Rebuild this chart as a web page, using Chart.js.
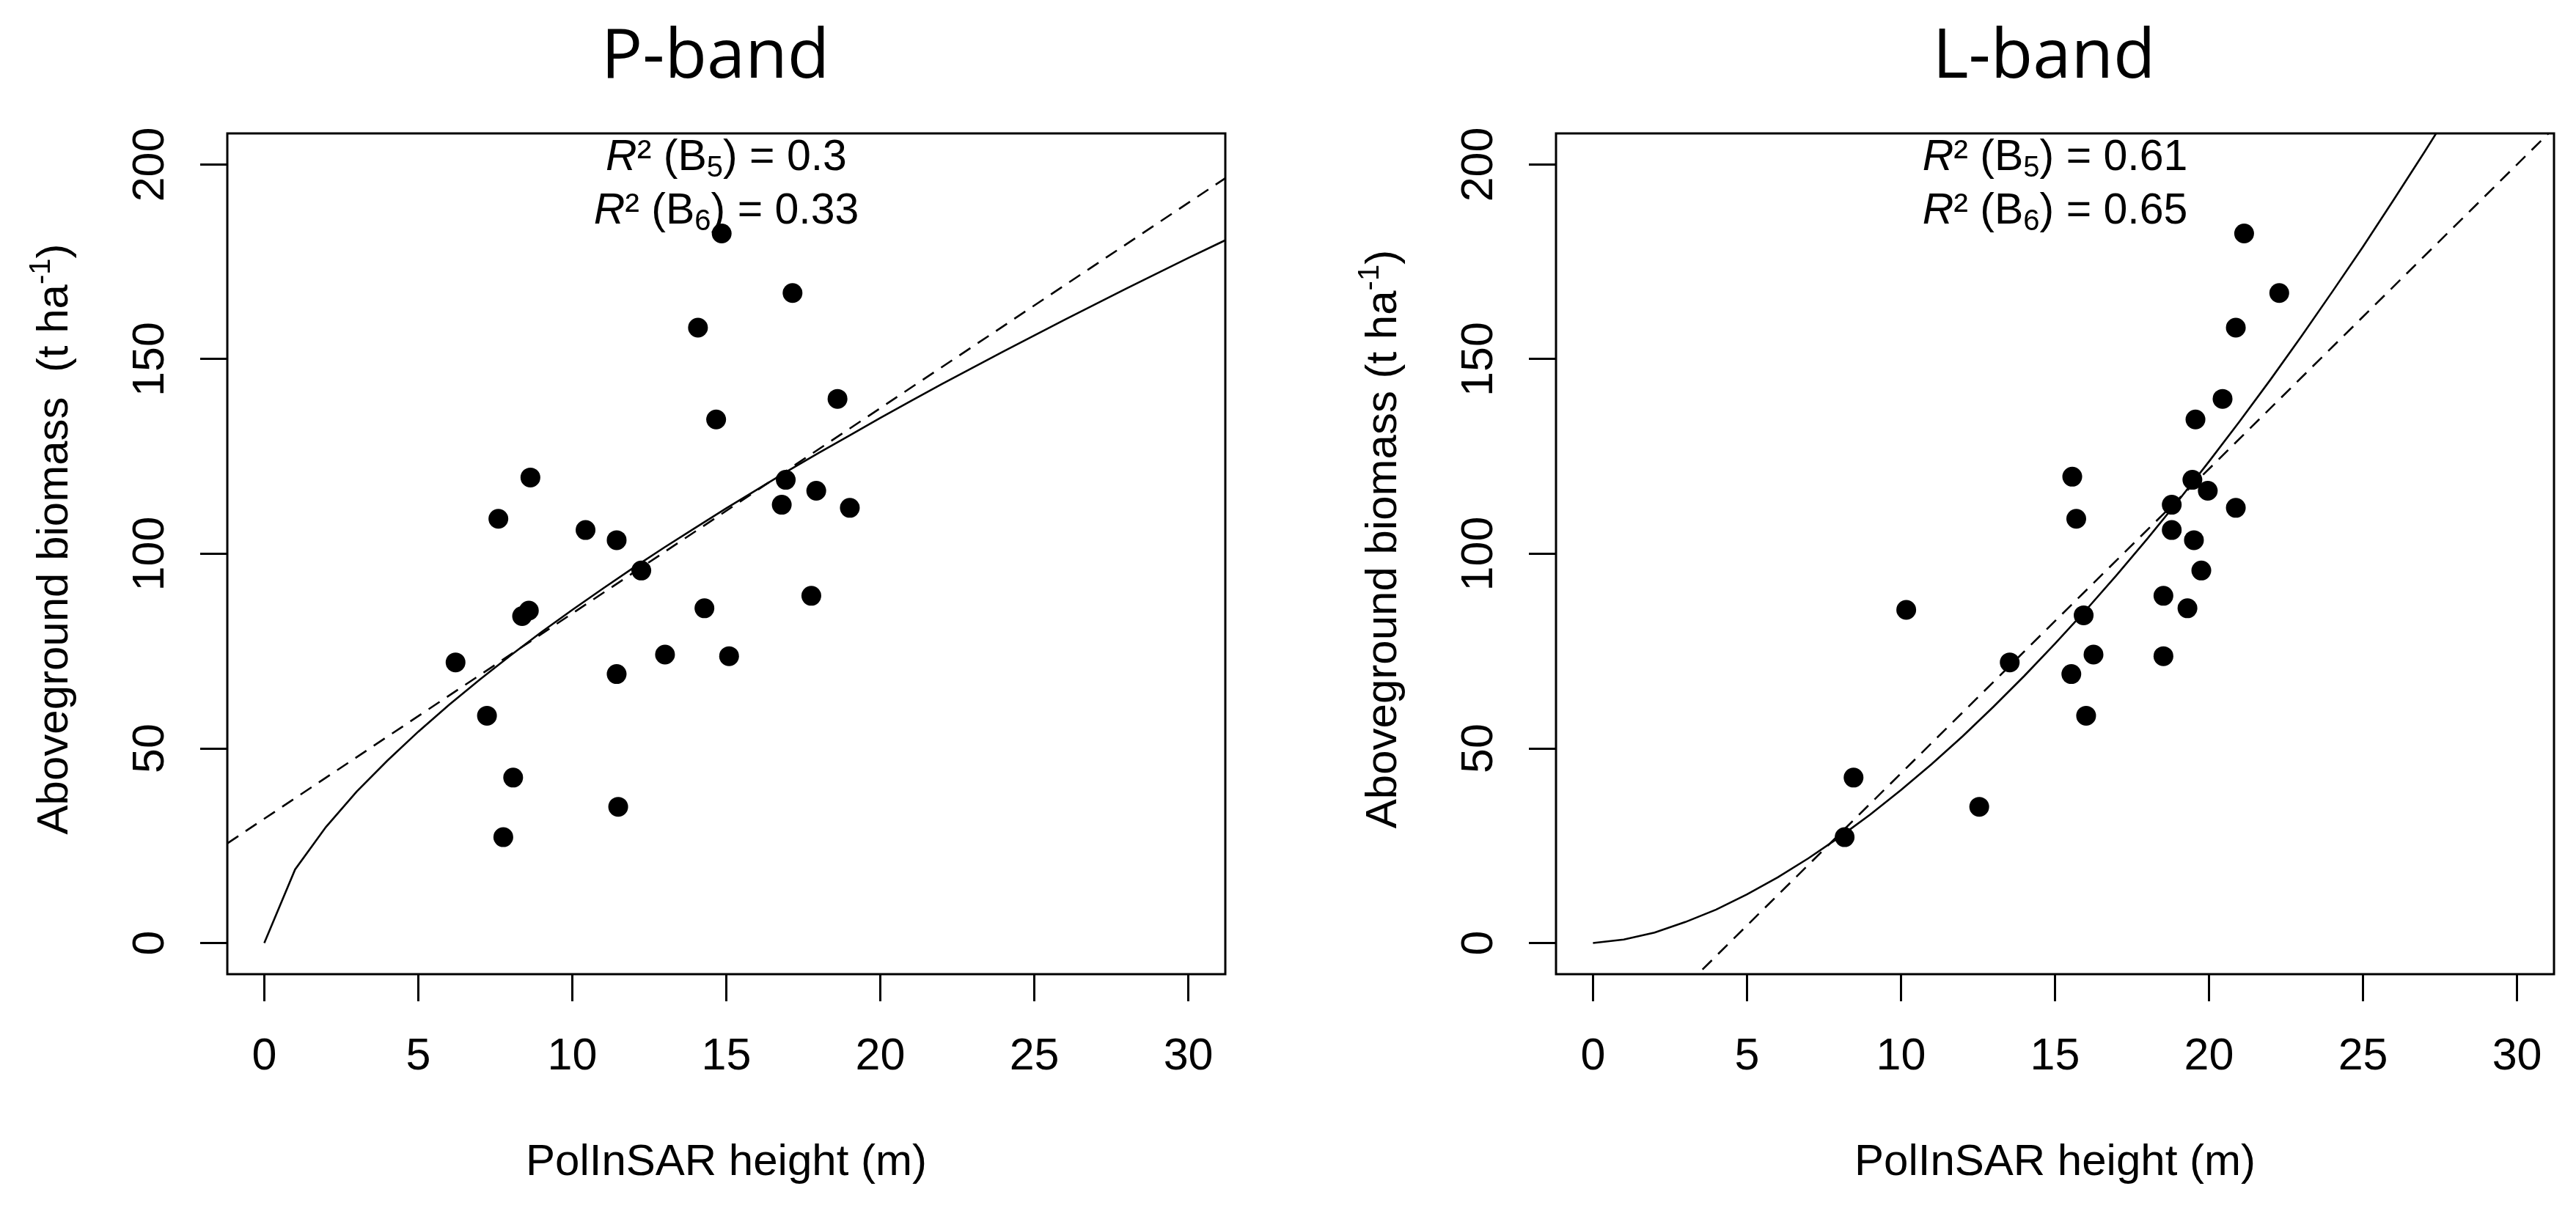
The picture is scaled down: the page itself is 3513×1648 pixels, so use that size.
<!DOCTYPE html>
<html>
<head>
<meta charset="utf-8">
<script src="https://cdn.jsdelivr.net/npm/chart.js@4.4.0/dist/chart.umd.min.js"></script>
<style>
  html, body { margin: 0; padding: 0; background: #fff; width: 3513px; height: 1648px; overflow: hidden; position: relative; }
  canvas { position: absolute; top: 0; }
  #pband { left: 0; }
  #lband { left: 1812px; }
</style>
</head>
<body>
<canvas id="pband" width="1756" height="1648"></canvas>
<canvas id="lband" width="1756" height="1648"></canvas>
<script>
// tick labels
const xTicks = [0, 5, 10, 15, 20, 25, 30];
const yTicks = [0, 50, 100, 150, 200];

// P-band plots: PolInSAR height (m) vs biomass (t/ha)
const pHeight = [6.21, 7.23, 7.6, 7.76, 8.08, 8.37, 8.59, 8.64, 10.43, 11.44, 11.44, 11.49, 12.24,
  13.01, 14.08, 14.29, 14.67, 14.85, 15.09, 16.8, 16.93, 17.15, 17.76, 17.92, 18.61, 19.01];
const pBiomass = [72.1, 58.4, 109.0, 27.2, 42.5, 84.0, 85.4, 119.6, 106.1, 103.5, 69.1, 35.0, 95.7,
  74.1, 158.1, 86.0, 134.5, 182.3, 73.7, 112.6, 119.0, 167.0, 89.2, 116.2, 139.8, 111.8];

// L-band plots
const lHeight = [8.17, 8.46, 10.17, 12.54, 13.53, 15.53, 15.56, 15.69, 15.93, 16.01, 16.25, 18.52, 18.52,
  18.79, 18.79, 19.3, 19.46, 19.51, 19.56, 19.75, 19.96, 20.44, 20.87, 20.87, 21.14, 22.28];
const lBiomass = [27.2, 42.5, 85.6, 35.0, 72.1, 69.1, 119.8, 109.0, 84.2, 58.4, 74.1, 89.2, 73.7,
  112.6, 106.1, 86.0, 119.0, 103.5, 134.5, 95.7, 116.2, 139.8, 158.1, 111.8, 182.3, 167.0];

// fitted curves
const curveX = [0, 1, 2, 3, 4, 5, 6, 7, 8, 9, 10, 11, 12, 13, 14, 15, 16,
  17, 18, 19, 20, 21, 22, 23, 24, 25, 26, 27, 28, 29, 30, 31, 32];
const pCurveY = [0, 18.9, 29.8, 38.9, 46.9, 54.3, 61.2, 67.7, 73.9, 79.9, 85.6, 91.1, 96.5, 101.7, 106.7, 111.7, 116.5,
  121.3, 125.9, 130.4, 134.9, 139.3, 143.6, 147.8, 152.0, 156.1, 160.2, 164.2, 168.2, 172.1, 176.0, 179.8, 183.6];
const lCurveY = [0, 0.9, 2.7, 5.4, 8.6, 12.5, 16.9, 21.8, 27.2, 33.0, 39.3, 46.0, 53.1, 60.7, 68.6, 76.9, 85.5,
  94.5, 103.9, 113.6, 123.7, 134.1, 144.8, 155.9, 167.3, 178.9, 191.0, 203.3, 215.9];

// linear fits (dashed), end points
const pLineX = [-1.2, 31.2];
const pLineY = [25.6, 196.5];
const lLineX = [0, 31.2];
const lLineY = [-34.6, 209.4];

const pR2 = ['0.3', '0.33'];
const lR2 = ['0.61', '0.65'];

const FONT = '"Liberation Sans", Arial, sans-serif';

function pairs(xs, ys) {
  return ys.map((y, i) => ({ x: xs[i], y: y }));
}

function drawRuns(ctx, runs, x, y) {
  let total = 0;
  runs.forEach(r => { ctx.font = r.font; total += ctx.measureText(r.text).width; });
  let pos = x - total / 2;
  ctx.textAlign = 'left';
  runs.forEach(r => {
    ctx.font = r.font;
    ctx.fillText(r.text, pos, y + (r.dy || 0));
    pos += ctx.measureText(r.text).width;
  });
}

// box, titles, tick labels and the R^2 notes, R style
const rDecor = {
  id: 'rDecor',
  afterDraw(chart, args, opts) {
    const ctx = chart.ctx;
    const a = chart.chartArea;
    const xs = chart.scales.x, ys = chart.scales.y;
    const cx = (a.left + a.right) / 2;
    ctx.save();
    ctx.strokeStyle = '#000';
    ctx.lineWidth = 3;
    ctx.strokeRect(a.left, a.top, a.right - a.left, a.bottom - a.top);
    ctx.fillStyle = '#000';
    ctx.textBaseline = 'alphabetic';

    ctx.textAlign = 'center';
    ctx.font = '94px "Open Sans", "DejaVu Sans", sans-serif';
    ctx.fillText(opts.title, cx - 15, 106);

    ctx.font = '61px ' + FONT;
    xTicks.forEach(v => ctx.fillText(String(v), xs.getPixelForValue(v), 1459));
    yTicks.forEach(v => {
      ctx.save();
      ctx.translate(223, ys.getPixelForValue(v));
      ctx.rotate(-Math.PI / 2);
      ctx.textAlign = 'center';
      ctx.fillText(String(v), 0, 0);
      ctx.restore();
    });

    ctx.textAlign = 'center';
    ctx.font = '60px ' + FONT;
    ctx.fillText('PolInSAR height (m)', cx, 1603);

    ctx.save();
    ctx.translate(92, (a.top + a.bottom) / 2 - 20);
    ctx.rotate(-Math.PI / 2);
    drawRuns(ctx, [
      { text: opts.yTitle, font: '60px ' + FONT },
      { text: '-1', font: '40px ' + FONT, dy: -24 },
      { text: ')', font: '60px ' + FONT }
    ], 0, 0);
    ctx.restore();

    opts.r2.forEach((val, i) => {
      drawRuns(ctx, [
        { text: 'R', font: 'italic 59px ' + FONT },
        { text: '\u00B2 (B', font: '59px ' + FONT },
        { text: String(5 + i), font: '40px ' + FONT, dy: 9 },
        { text: ') = ' + val, font: '59px ' + FONT }
      ], cx, 232 + i * 73);
    });
    ctx.restore();
  }
};

function makeChart(id, pts, curve, line, deco) {
  return new Chart(document.getElementById(id), {
    type: 'scatter',
    data: {
      datasets: [
        { data: pts, pointRadius: 13.5, pointHoverRadius: 13.5, backgroundColor: '#000', borderWidth: 0 },
        { data: curve, showLine: true, pointRadius: 0, borderColor: '#000', borderWidth: 2.6, tension: 0 },
        { data: line, showLine: true, pointRadius: 0, borderColor: '#000', borderWidth: 2.6, borderDash: [18, 12] }
      ]
    },
    options: {
      responsive: false,
      animation: false,
      devicePixelRatio: 1,
      layout: { padding: { left: 0, top: 182, right: 85, bottom: 0 } },
      plugins: {
        legend: { display: false },
        tooltip: { enabled: false },
        rDecor: deco
      },
      scales: {
        x: {
          type: 'linear', min: -1.2, max: 31.2,
          afterBuildTicks: s => { s.ticks = xTicks.map(v => ({ value: v })); },
          afterFit: s => { s.height = 319; },
          ticks: { display: false },
          border: { display: false },
          grid: { drawOnChartArea: false, drawTicks: true, tickLength: 37, color: '#000', lineWidth: 3 }
        },
        y: {
          type: 'linear', min: -8, max: 208,
          afterBuildTicks: s => { s.ticks = yTicks.map(v => ({ value: v })); },
          afterFit: s => { s.width = 310; },
          ticks: { display: false },
          border: { display: false },
          grid: { drawOnChartArea: false, drawTicks: true, tickLength: 37, color: '#000', lineWidth: 3 }
        }
      }
    },
    plugins: [rDecor]
  });
}

makeChart('pband', pairs(pHeight, pBiomass), pairs(curveX, pCurveY), pairs(pLineX, pLineY),
  { title: 'P-band', yTitle: 'Aboveground biomass  (t ha', r2: pR2 });
makeChart('lband', pairs(lHeight, lBiomass), pairs(curveX, lCurveY), pairs(lLineX, lLineY),
  { title: 'L-band', yTitle: 'Aboveground biomass (t ha', r2: lR2 });
</script>
</body>
</html>
